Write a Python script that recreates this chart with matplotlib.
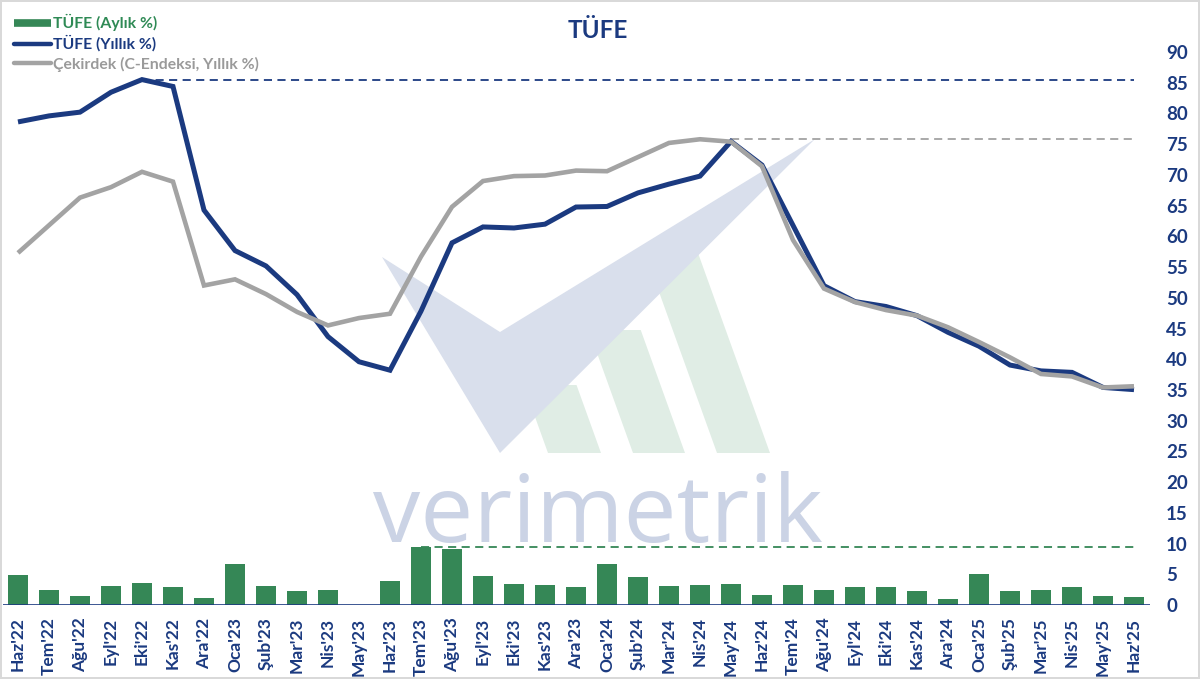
import matplotlib
matplotlib.use("Agg")
import matplotlib.pyplot as plt
from matplotlib.lines import Line2D
from matplotlib.patches import Polygon
import matplotlib.transforms as mtransforms

# ---------------- data ----------------
months = ["Haz'22", "Tem'22", "Ağu'22", "Eyl'22", "Eki'22", "Kas'22", "Ara'22",
          "Oca'23", "Şub'23", "Mar'23", "Nis'23", "May'23", "Haz'23", "Tem'23",
          "Ağu'23", "Eyl'23", "Eki'23", "Kas'23", "Ara'23", "Oca'24", "Şub'24",
          "Mar'24", "Nis'24", "May'24", "Haz'24", "Tem'24", "Ağu'24", "Eyl'24",
          "Eki'24", "Kas'24", "Ara'24", "Oca'25", "Şub'25", "Mar'25", "Nis'25",
          "May'25", "Haz'25"]

tufe_aylik = [4.95, 2.37, 1.46, 3.08, 3.54, 2.88, 1.18, 6.65, 3.15, 2.29, 2.39,
              0.04, 3.92, 9.49, 9.09, 4.75, 3.43, 3.28, 2.93, 6.70, 4.53, 3.16,
              3.18, 3.37, 1.64, 3.23, 2.47, 2.97, 2.88, 2.24, 1.03, 5.03, 2.27,
              2.46, 3.00, 1.53, 1.37]

tufe_yillik = [78.62, 79.60, 80.21, 83.45, 85.51, 84.39, 64.27, 57.68, 55.18,
               50.51, 43.68, 39.59, 38.21, 47.83, 58.94, 61.53, 61.36, 61.98,
               64.77, 64.86, 67.07, 68.50, 69.80, 75.45, 71.60, 61.78, 51.97,
               49.38, 48.58, 47.09, 44.38, 42.12, 39.05, 38.10, 37.86, 35.41,
               35.05]

cekirdek = [57.3, 61.8, 66.3, 68.0, 70.5, 68.9, 52.0, 53.0, 50.6, 47.7, 45.5,
            46.7, 47.4, 56.7, 64.8, 69.0, 69.8, 69.9, 70.7, 70.6, 72.9, 75.2,
            75.8, 75.4, 71.4, 59.4, 51.5, 49.3, 48.0, 47.1, 45.2, 42.8, 40.3,
            37.6, 37.2, 35.4, 35.6]

yticks = list(range(0, 95, 5))

# reference (peak) lines start at these months
ref_start_yillik = "Eki'22"
ref_start_cekirdek = "May'24"
ref_start_aylik = "Tem'23"

# ---------------- style ----------------
NAVY = "#1b3a80"
GRAY = "#a3a3a3"
GREEN = "#358756"
GREEN_TXT = "#2f8a55"
FONT = "Lato"

W, H = 1200, 679
fig = plt.figure(figsize=(W / 100, H / 100), dpi=100)
fig.patch.set_facecolor("white")
fig.patch.set_edgecolor("#d9d9d9")
fig.patch.set_linewidth(1.5)

ax = fig.add_axes([2.5 / W, 1 - 605 / H, (1149.5 - 2.5) / W, (605 - 52) / H])
ax.patch.set_alpha(0)

x = list(range(len(months)))

# watermark (decoration, in figure pixel coordinates)
pix = mtransforms.Affine2D().scale(1 / W, -1 / H).translate(0, 1) + fig.transFigure
stripe_col = "#e0ede5"
check_col = "#d9dfec"
def stripe(x0, x1, ytop, slope=0.36, ybot=453):
    t = ybot - ytop
    return [(x0, ybot), (x1, ybot), (x1 - slope * t, ytop), (x0 - slope * t, ytop)]
for (a, b, top) in [(548, 601, 385), (633, 685, 330), (717, 770, 250)]:
    ax.add_patch(Polygon(stripe(a, b, top), closed=True, transform=pix,
                         facecolor=stripe_col, edgecolor="none", zorder=0.3,
                         clip_on=False))
ax.add_patch(Polygon([(382, 257), (500, 332), (815, 139), (500, 453)],
                     closed=True, transform=pix, facecolor=check_col,
                     edgecolor="none", zorder=0.4, clip_on=False))
ax.text(598, 542, "verimetrik", transform=pix, ha="center", va="baseline",
        fontsize=68, family="Open Sans", color="#cbd3e5", zorder=0.5,
        clip_on=False)

# bars
ax.bar(x, tufe_aylik, width=0.66, color=GREEN, zorder=2, label="TÜFE (Aylık %)")
ax.axhline(0, color=NAVY, lw=1.2, zorder=2.5)

# lines
ax.plot(x, tufe_yillik, color=NAVY, lw=3.6, zorder=3, label="TÜFE (Yıllık %)",
        solid_joinstyle="miter", solid_capstyle="butt")
ax.plot(x, cekirdek, color=GRAY, lw=3.3, zorder=4,
        label="Çekirdek (C-Endeksi, Yıllık %)",
        solid_joinstyle="miter", solid_capstyle="butt")

# dashed peak reference lines
ds = (0, (4.5, 3))
ax.hlines(max(tufe_yillik), months.index(ref_start_yillik), len(months) - 1,
          colors=NAVY, lw=1.3, linestyles=[ds], zorder=2.8)
ax.hlines(max(cekirdek), months.index(ref_start_cekirdek), len(months) - 1,
          colors=GRAY, lw=1.3, linestyles=[ds], zorder=2.8)
ax.hlines(max(tufe_aylik), months.index(ref_start_aylik), len(months) - 1,
          colors=GREEN, lw=1.3, linestyles=[ds], zorder=2.8)

ax.set_xlim(-0.5, len(months) - 0.5)
ax.set_ylim(0, 90)
ax.set_yticks(yticks)
ax.yaxis.tick_right()
ax.tick_params(axis="y", length=0, pad=12, labelsize=13.5, labelcolor=NAVY)
ax.set_xticks(x)
ax.set_xticklabels(months, rotation=90)
ax.tick_params(axis="x", length=0, pad=9, labelsize=12.5, labelcolor=NAVY)
for lab in ax.get_yticklabels() + ax.get_xticklabels():
    lab.set_fontfamily(FONT)
    lab.set_fontweight("bold")
for s in ax.spines.values():
    s.set_visible(False)

# title
fig.text(598 / W, 1 - 31 / H, "TÜFE", ha="center", va="center",
         fontsize=17.5, fontweight="bold", family=FONT, color=NAVY)

# legend
handles = [Line2D([], [], color=GREEN, lw=5.5, solid_capstyle="butt"),
           Line2D([], [], color=NAVY, lw=3.2, solid_capstyle="round"),
           Line2D([], [], color=GRAY, lw=3.2, solid_capstyle="round")]
labels = ["TÜFE (Aylık %)", "TÜFE (Yıllık %)", "Çekirdek (C-Endeksi, Yıllık %)"]
leg = fig.legend(handles, labels, loc="upper left",
                 bbox_to_anchor=(14 / W, 1 - 14 / H), frameon=False,
                 prop={"family": FONT, "weight": "bold", "size": 11.3},
                 labelcolor=[GREEN_TXT, NAVY, "#9a9a9a"],
                 handlelength=2.35, handletextpad=0.15, labelspacing=0.28,
                 borderaxespad=0, borderpad=0)

fig.savefig("out.png", dpi=100, facecolor="white", edgecolor="#d9d9d9")
